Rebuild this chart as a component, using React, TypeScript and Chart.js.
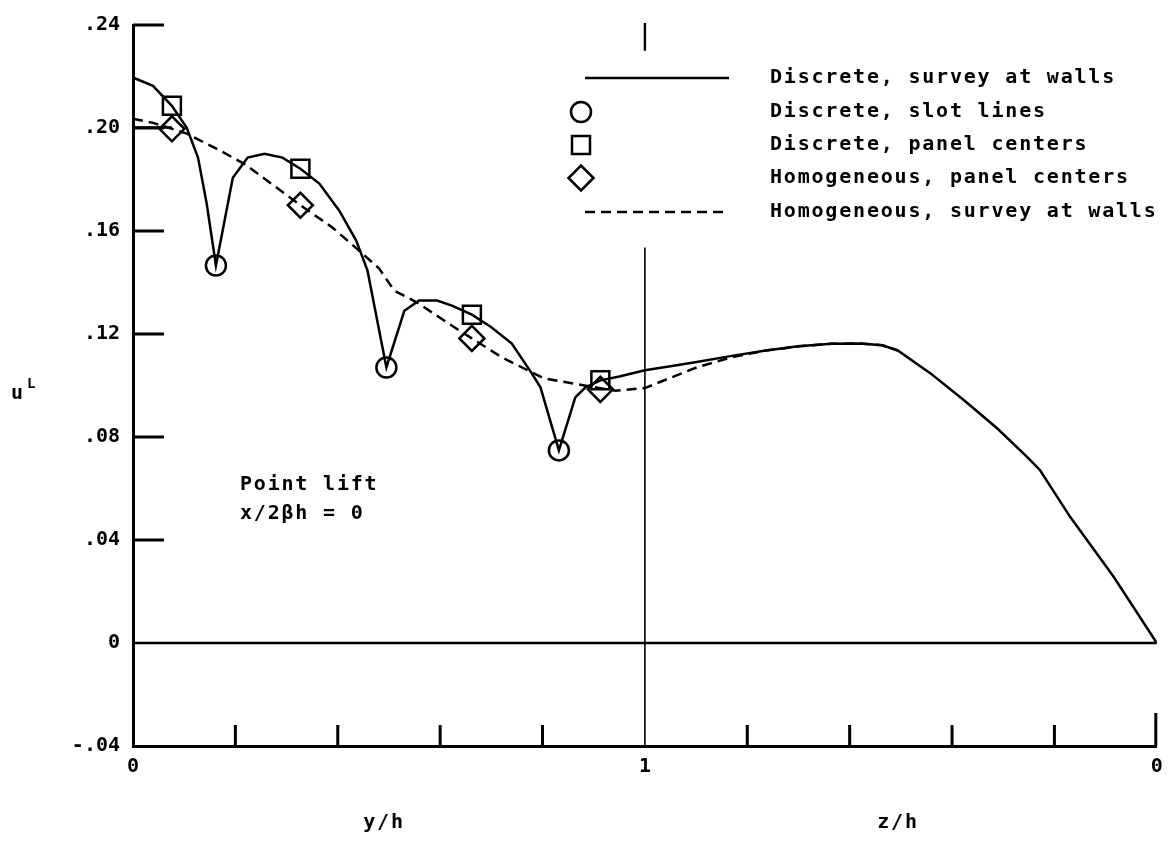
import React, { useEffect, useRef } from 'react';
import { Chart, registerables } from 'chart.js';

Chart.register(...registerables);

// ---- Data ----
// Discrete, survey at walls (solid curve)
const discreteWallX = [0.0, 0.039, 0.076, 0.105, 0.127, 0.144, 0.162, 0.195, 0.224, 0.257, 0.292, 0.327, 0.364, 0.403, 0.436, 0.458, 0.495, 0.53, 0.559, 0.594, 0.623, 0.662, 0.7, 0.74, 0.779, 0.796, 0.832, 0.864, 0.884, 0.913, 0.95, 1.0, 1.05, 1.101, 1.17, 1.236, 1.3, 1.364, 1.42, 1.464, 1.494, 1.558, 1.624, 1.688, 1.747, 1.772, 1.831, 1.916, 2.0];
const discreteWallY = [0.2196, 0.2164, 0.2086, 0.2001, 0.1885, 0.1706, 0.1466, 0.1807, 0.1885, 0.19, 0.1885, 0.1842, 0.1784, 0.1679, 0.1563, 0.1447, 0.107, 0.129, 0.133, 0.133, 0.131, 0.1275, 0.1226, 0.1163, 0.1047, 0.0993, 0.0748, 0.0954, 0.0993, 0.102, 0.1035, 0.1059, 0.1075, 0.1091, 0.1115, 0.1136, 0.1152, 0.1162, 0.1163, 0.1156, 0.1136, 0.1047, 0.0942, 0.0834, 0.0722, 0.0671, 0.0489, 0.0256, 0.0];
// short solid branch at the wall
const wallStubX = [0.0, 0.076];
const wallStubY = [0.2002, 0.2002];

// Homogeneous, survey at walls (dashed curve)
const homogWallX = [0.0, 0.039, 0.076, 0.105, 0.163, 0.218, 0.273, 0.327, 0.39, 0.446, 0.481, 0.51, 0.555, 0.637, 0.662, 0.72, 0.802, 0.89, 0.943, 1.0, 1.05, 1.101, 1.17, 1.236, 1.3, 1.364, 1.42, 1.464, 1.494];
const homogWallY = [0.2036, 0.202, 0.1997, 0.1978, 0.192, 0.186, 0.178, 0.17, 0.1613, 0.1516, 0.1454, 0.1369, 0.1322, 0.1214, 0.1183, 0.111, 0.1028, 0.0997, 0.098, 0.099, 0.103, 0.107, 0.111, 0.1136, 0.1152, 0.1162, 0.1163, 0.1156, 0.1136];

// Discrete, slot lines (circles)
const slotX = [0.162, 0.495, 0.832];
const slotY = [0.1466, 0.107, 0.0748];
// Discrete, panel centers (squares)
const discPanelX = [0.076, 0.327, 0.662, 0.913];
const discPanelY = [0.2086, 0.1842, 0.1275, 0.102];
// Homogeneous, panel centers (diamonds)
const homogPanelX = [0.076, 0.327, 0.662, 0.913];
const homogPanelY = [0.1997, 0.17, 0.1183, 0.0985];

// Axes
const yTickValues = [-0.04, 0, 0.04, 0.08, 0.12, 0.16, 0.2, 0.24];
const yTickLabels = ['-.04', '0', '.04', '.08', '.12', '.16', '.20', '.24'];
const yInnerTicks = [0.04, 0.08, 0.12, 0.16, 0.2, 0.24];
const xTickValues = [0, 1, 2];
const xTickLabels = ['0', '1', '0'];
const xInnerTicks = [0.2, 0.4, 0.6, 0.8, 1.2, 1.4, 1.6, 1.8];
const xEndTick = 2;
const dividerX = 1;
const dividerLow = [-0.04, 0.1536];
const dividerTop = [0.230, 0.2408];

const legendLabels = [
  'Discrete, survey at walls',
  'Discrete, slot lines',
  'Discrete, panel centers',
  'Homogeneous, panel centers',
  'Homogeneous, survey at walls',
];
const noteLines = ['Point lift', 'x/2\u03b2h = 0'];

const MONO = '"DejaVu Sans Mono", "Liberation Mono", monospace';

const pts = (xs: number[], ys: number[]) => xs.map((x, i) => ({ x, y: ys[i] }));

function drawMarker(ctx: CanvasRenderingContext2D, kind: string, x: number, y: number) {
  ctx.save();
  ctx.strokeStyle = '#000';
  ctx.lineWidth = 2.5;
  ctx.beginPath();
  if (kind === 'circle') {
    ctx.arc(x, y, 10, 0, Math.PI * 2);
  } else if (kind === 'rect') {
    ctx.rect(x - 9, y - 9, 18, 18);
  } else {
    ctx.moveTo(x, y - 12.5);
    ctx.lineTo(x + 12.5, y);
    ctx.lineTo(x, y + 12.5);
    ctx.lineTo(x - 12.5, y);
    ctx.closePath();
  }
  ctx.stroke();
  ctx.restore();
}

export default function App() {
  const ref = useRef<HTMLCanvasElement>(null);

  useEffect(() => {
    document.body.style.margin = '0';
    const canvas = ref.current;
    if (!canvas) return;

    const overlay = {
      id: 'overlay',
      afterDatasetsDraw(chart: any) {
        const ctx: CanvasRenderingContext2D = chart.ctx;
        const xs = chart.scales.x;
        const ys = chart.scales.y;
        const area = chart.chartArea;
        ctx.save();
        ctx.strokeStyle = '#000';
        ctx.fillStyle = '#000';
        ctx.lineCap = 'butt';
        // inward ticks on y axis
        ctx.lineWidth = 3;
        yInnerTicks.forEach((v) => {
          const py = ys.getPixelForValue(v);
          ctx.beginPath();
          ctx.moveTo(area.left, py);
          ctx.lineTo(area.left + 31, py);
          ctx.stroke();
        });
        // inward ticks on x axis
        xInnerTicks.forEach((v) => {
          const px = xs.getPixelForValue(v);
          ctx.beginPath();
          ctx.moveTo(px, area.bottom);
          ctx.lineTo(px, area.bottom - 21);
          ctx.stroke();
        });
        {
          const px = xs.getPixelForValue(xEndTick) - 1;
          ctx.beginPath();
          ctx.moveTo(px, area.bottom);
          ctx.lineTo(px, area.bottom - 33);
          ctx.stroke();
        }

        // text
        (ctx as any).letterSpacing = '1.8px';
        ctx.font = `bold 20px ${MONO}`;
        ctx.textBaseline = 'middle';
        ctx.textAlign = 'left';

        // legend
        const legY = [78, 112, 145, 178, 212];
        const lx0 = 585;
        const lx1 = 729;
        const mx = 581;
        ctx.lineWidth = 2.5;
        ctx.beginPath();
        ctx.moveTo(lx0, legY[0]);
        ctx.lineTo(lx1, legY[0]);
        ctx.stroke();
        drawMarker(ctx, 'circle', mx, legY[1]);
        drawMarker(ctx, 'rect', mx, legY[2]);
        drawMarker(ctx, 'diamond', mx, legY[3]);
        ctx.save();
        ctx.setLineDash([10, 6]);
        ctx.beginPath();
        ctx.moveTo(lx0, legY[4]);
        ctx.lineTo(lx1, legY[4]);
        ctx.stroke();
        ctx.restore();
        legendLabels.forEach((t, i) => ctx.fillText(t, 770, legY[i]));

        // note
        ctx.fillText(noteLines[0], 240, 485);
        ctx.fillText(noteLines[1], 240, 514);

        // axis titles
        ctx.textAlign = 'center';
        ctx.fillText('y/h', 384, 823);
        ctx.fillText('z/h', 898, 823);
        ctx.textAlign = 'left';
        ctx.fillText('u', 11, 394);
        ctx.font = `bold 14px ${MONO}`;
        (ctx as any).letterSpacing = '0px';
        ctx.fillText('L', 27, 384);
        ctx.restore();
      },
    };

    const lineDs = (data: any[], extra: any = {}) => ({
      data,
      showLine: true,
      borderColor: '#000',
      backgroundColor: '#000',
      borderWidth: 2.5,
      pointRadius: 0,
      pointHoverRadius: 0,
      tension: 0,
      ...extra,
    });
    const markerDs = (data: any[], style: string, radius: number) => ({
      data,
      showLine: false,
      pointStyle: style,
      pointRadius: radius,
      pointHoverRadius: radius,
      pointBorderWidth: 2.5,
      borderColor: '#000',
      backgroundColor: 'rgba(0,0,0,0)',
      clip: false,
    });

    const chart = new Chart(canvas, {
      type: 'scatter',
      data: {
        datasets: [
          markerDs(pts(slotX, slotY), 'circle', 10),
          markerDs(pts(discPanelX, discPanelY), 'rect', 12.7),
          markerDs(pts(homogPanelX, homogPanelY), 'rectRot', 12.5),
          lineDs(pts(discreteWallX, discreteWallY)),
          lineDs(pts(wallStubX, wallStubY)),
          lineDs(pts(homogWallX, homogWallY), { borderDash: [10, 6] }),
          lineDs(pts([0, 2], [0, 0])),
          lineDs(pts([dividerX, dividerX], dividerLow), { borderWidth: 1.6 }),
          lineDs(pts([dividerX, dividerX], dividerTop), { borderWidth: 2.4, clip: false }),
        ],
      },
      options: {
        responsive: false,
        animation: false,
        events: [],
        layout: { padding: { left: 0, top: 23, right: 12, bottom: 0 } },
        plugins: { legend: { display: false }, tooltip: { enabled: false } },
        scales: {
          x: {
            type: 'linear',
            min: 0,
            max: 2,
            afterFit: (s: any) => { s.height = 101; },
            afterBuildTicks: (s: any) => { s.ticks = xTickValues.map((v) => ({ value: v })); },
            grid: { display: false, drawTicks: false },
            border: { display: true, color: '#000', width: 3 },
            ticks: {
              padding: 9,
              color: '#000',
              autoSkip: false,
              maxRotation: 0,
              font: { family: MONO, size: 20, weight: 'bold' },
              callback: (_v: any, i: number) => xTickLabels[i],
            },
          },
          y: {
            type: 'linear',
            min: -0.04,
            max: 0.24,
            afterFit: (s: any) => { s.width = 133; },
            afterBuildTicks: (s: any) => { s.ticks = yTickValues.map((v) => ({ value: v })); },
            grid: { display: false, drawTicks: false },
            border: { display: true, color: '#000', width: 3 },
            ticks: {
              padding: 13,
              color: '#000',
              autoSkip: false,
              font: { family: MONO, size: 20, weight: 'bold' },
              callback: (_v: any, i: number) => yTickLabels[i],
            },
          },
        },
      },
      plugins: [overlay],
    } as any);

    return () => chart.destroy();
  }, []);

  return (
    <canvas ref={ref} width={1172} height={847} style={{ display: 'block', width: 1172, height: 847 }} />
  );
}
